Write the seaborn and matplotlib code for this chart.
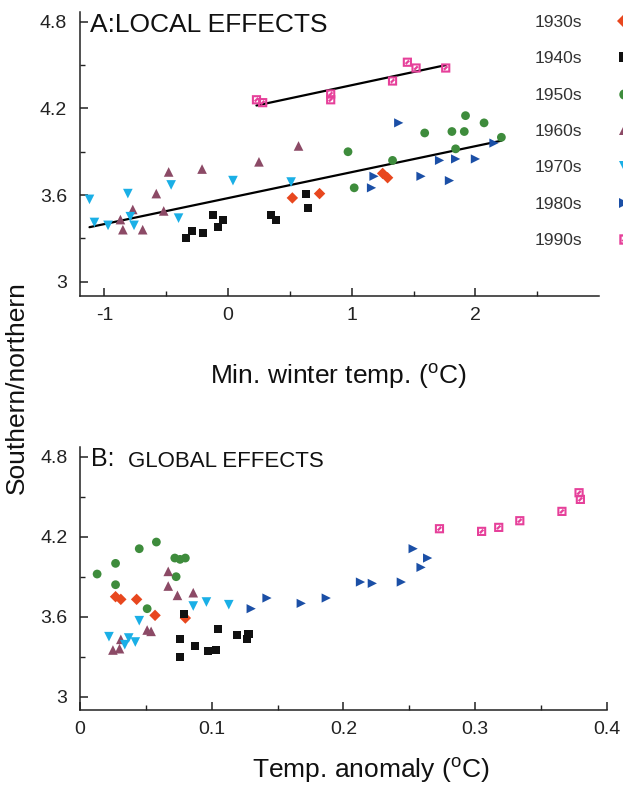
import numpy as np
import pandas as pd
import matplotlib
matplotlib.use("Agg")
import matplotlib.pyplot as plt
import seaborn as sns
from matplotlib.path import Path
from matplotlib.lines import Line2D

# ---------------- data ----------------
decades = ["1930s", "1940s", "1950s", "1960s", "1970s", "1980s", "1990s"]
colors = ["#E8471E", "#111111", "#3E8C3C", "#8C4A66", "#1AAFE6", "#1B4FA6", "#E6409A"]

# Panel A: local effects (min. winter temp vs ratio)
a1930_x = [0.52, 0.74, 1.25, 1.29]
a1930_y = [3.58, 3.61, 3.75, 3.72]
a1940_x = [-0.34, -0.29, -0.20, -0.12, -0.08, -0.04, 0.35, 0.39, 0.63, 0.65]
a1940_y = [3.30, 3.35, 3.34, 3.46, 3.38, 3.43, 3.46, 3.43, 3.61, 3.51]
a1950_x = [0.97, 1.02, 1.33, 1.59, 1.81, 1.91, 1.92, 2.07, 1.84, 2.21]
a1950_y = [3.90, 3.65, 3.84, 4.03, 4.04, 4.04, 4.15, 4.10, 3.92, 4.00]
a1960_x = [-0.87, -0.85, -0.77, -0.69, -0.58, -0.52, -0.48, -0.21, 0.25, 0.57]
a1960_y = [3.43, 3.36, 3.50, 3.36, 3.61, 3.49, 3.76, 3.78, 3.83, 3.94]
a1970_x = [-1.12, -1.08, -0.97, -0.81, -0.79, -0.76, -0.46, -0.40, 0.04, 0.51]
a1970_y = [3.57, 3.41, 3.39, 3.61, 3.45, 3.39, 3.67, 3.44, 3.70, 3.69]
a1980_x = [1.38, 1.18, 1.16, 1.56, 1.79, 1.71, 1.84, 2.00, 2.15]
a1980_y = [4.10, 3.73, 3.65, 3.73, 3.70, 3.84, 3.85, 3.85, 3.96]
a1990_x = [0.23, 0.28, 0.83, 0.83, 1.45, 1.52, 1.33, 1.76]
a1990_y = [4.26, 4.24, 4.30, 4.26, 4.52, 4.48, 4.39, 4.48]

# Panel B: global effects (temp. anomaly vs ratio)
b1930_x = [0.027, 0.031, 0.043, 0.057, 0.080]
b1930_y = [3.75, 3.73, 3.73, 3.61, 3.59]
b1940_x = [0.079, 0.076, 0.076, 0.087, 0.097, 0.103, 0.105, 0.119, 0.128, 0.127]
b1940_y = [3.62, 3.43, 3.30, 3.38, 3.34, 3.35, 3.51, 3.46, 3.47, 3.43]
b1950_x = [0.013, 0.027, 0.027, 0.045, 0.058, 0.072, 0.076, 0.080, 0.073, 0.051]
b1950_y = [3.92, 4.00, 3.84, 4.11, 4.16, 4.04, 4.03, 4.04, 3.90, 3.66]
b1960_x = [0.067, 0.067, 0.074, 0.086, 0.051, 0.054, 0.031, 0.025, 0.030]
b1960_y = [3.94, 3.83, 3.76, 3.78, 3.50, 3.49, 3.43, 3.35, 3.36]
b1970_x = [0.022, 0.045, 0.034, 0.037, 0.042, 0.086, 0.096, 0.113]
b1970_y = [3.45, 3.57, 3.39, 3.44, 3.41, 3.68, 3.71, 3.69]
b1980_x = [0.130, 0.142, 0.168, 0.187, 0.213, 0.222, 0.244, 0.253, 0.264, 0.259]
b1980_y = [3.66, 3.74, 3.70, 3.74, 3.86, 3.85, 3.86, 4.11, 4.04, 3.97]
b1990_x = [0.273, 0.305, 0.318, 0.334, 0.366, 0.379, 0.380]
b1990_y = [4.26, 4.24, 4.27, 4.32, 4.39, 4.53, 4.48]

a_x_lists = [a1930_x, a1940_x, a1950_x, a1960_x, a1970_x, a1980_x, a1990_x]
a_y_lists = [a1930_y, a1940_y, a1950_y, a1960_y, a1970_y, a1980_y, a1990_y]
b_x_lists = [b1930_x, b1940_x, b1950_x, b1960_x, b1970_x, b1980_x, b1990_x]
b_y_lists = [b1930_y, b1940_y, b1950_y, b1960_y, b1970_y, b1980_y, b1990_y]

a_xticks = [-1, 0, 1, 2]
a_xticklabels = ["-1", "0", "1", "2"]
b_xticks = [0, 0.1, 0.2, 0.3, 0.4]
b_xticklabels = ["0", "0.1", "0.2", "0.3", "0.4"]
yticks = [3.0, 3.6, 4.2, 4.8]
yticklabels = ["3", "3.6", "4.2", "4.8"]


def make_df(xl, yl):
    rows = []
    for d, xs, ys in zip(decades, xl, yl):
        for x, y in zip(xs, ys):
            rows.append((d, x, y))
    return pd.DataFrame(rows, columns=["decade", "x", "y"])


dfA = make_df(a_x_lists, a_y_lists)
dfB = make_df(b_x_lists, b_y_lists)

# ---------------- style ----------------
sns.set_style("ticks")
plt.rcParams["font.family"] = ["Liberation Sans", "DejaVu Sans"]
plt.rcParams["mathtext.fontset"] = "custom"
plt.rcParams["mathtext.rm"] = "Liberation Sans"

# custom marker for the 1990s: open square with a small diagonal mark
verts = [(-1, -1), (1, -1), (1, 1), (-1, 1), (-1, -1),
         (-0.55, -0.55), (-0.55, 0.55), (0.55, 0.55), (0.55, -0.55), (-0.55, -0.55),
         (-0.55, -0.2), (-0.2, -0.55), (0.55, 0.2), (0.2, 0.55), (-0.55, -0.2)]
codes = [Path.MOVETO, Path.LINETO, Path.LINETO, Path.LINETO, Path.CLOSEPOLY,
         Path.MOVETO, Path.LINETO, Path.LINETO, Path.LINETO, Path.CLOSEPOLY,
         Path.MOVETO, Path.LINETO, Path.LINETO, Path.LINETO, Path.CLOSEPOLY]
sq_marker = Path(verts, codes)

markers = ["D", "s", "o", "^", "v", ">", sq_marker]
msizes = [34, 34, 40, 48, 48, 44, 44]

W, H = 623, 787
fig = plt.figure(figsize=(W / 100, H / 100), dpi=100)
axA = fig.add_axes([79.6 / W, 1 - 296.1 / H, (599.1 - 79.6) / W, (296.1 - 11.7) / H])
axB = fig.add_axes([80 / W, 1 - 710 / H, (606.7 - 80) / W, (710 - 447.4) / H])


def draw(ax, df):
    for d, c, m, s in zip(decades, colors, markers, msizes):
        sub = df[df["decade"] == d]
        sns.scatterplot(data=sub, x="x", y="y", color=c, marker=m, s=s,
                        linewidth=0, edgecolor="none", ax=ax, legend=False,
                        zorder=3)


draw(axA, dfA)
draw(axB, dfB)

# regression lines in panel A
low = dfA[dfA["decade"] != "1990s"]
high = dfA[dfA["decade"] == "1990s"]
sns.regplot(data=low, x="x", y="y", scatter=False, ci=None, truncate=True,
            color="black", line_kws=dict(lw=1.6, zorder=2), ax=axA)
sns.regplot(data=high, x="x", y="y", scatter=False, ci=None, truncate=True,
            color="black", line_kws=dict(lw=1.6, zorder=2), ax=axA)

for ax, xt, xtl, xlim, minor in [
    (axA, a_xticks, a_xticklabels, (-1.2, 3.0), [-0.5, 0.5, 1.5, 2.5]),
    (axB, b_xticks, b_xticklabels, (0, 0.4), [0.05, 0.15, 0.25, 0.35]),
]:
    ax.set_xlim(*xlim)
    ax.set_ylim(2.9, 4.87)
    ax.set_xticks(xt)
    ax.set_xticklabels(xtl)
    ax.set_xticks(minor, minor=True)
    ax.set_yticks(yticks)
    ax.set_yticklabels(yticklabels)
    ax.set_yticks([3.3, 3.9, 4.5], minor=True)
    ax.set_xlabel("")
    ax.set_ylabel("")
    sns.despine(ax=ax)
    for sp in ["left", "bottom"]:
        ax.spines[sp].set_linewidth(1.1)
        ax.spines[sp].set_color("#222222")
    ax.tick_params(which="major", direction="in", length=6, width=1.1,
                   labelsize=14, color="#222222", labelcolor="#222222")
    ax.tick_params(which="minor", direction="in", length=3.5, width=1.0,
                   color="#222222")
    ax.tick_params(axis="x", which="major", pad=8)
    ax.tick_params(axis="y", which="major", pad=9)

# titles
fig.text(90 / W, 1 - 32 / H, "A:LOCAL EFFECTS", fontsize=19, va="baseline",
         ha="left", color="#111111")
fig.text(91 / W, 1 - 466 / H, "B:", fontsize=18, va="baseline", ha="left",
         color="#111111")
fig.text(128 / W, 1 - 467 / H, "GLOBAL EFFECTS", fontsize=16, va="baseline",
         ha="left", color="#111111")

# axis labels
fig.text(338.5 / W, 1 - 384 / H, r"Min. winter temp. ($^{\mathrm{o}}$C)",
         fontsize=19, ha="center", va="baseline", color="#111111")
fig.text(371 / W, 1 - 778 / H, r"Temp. anomaly ($^{\mathrm{o}}$C)",
         fontsize=19, ha="center", va="baseline", color="#111111")
fig.text(17 / W, 1 - 388 / H, "Southern/northern", rotation=90, fontsize=19,
         ha="center", va="center", color="#111111")

# legend (labels with markers to the right, clipped by the figure edge)
handles = [Line2D([], [], linestyle="none", marker=m, color=c,
                  markersize=7.5, markeredgewidth=0)
           for m, c in zip(markers, colors)]
fig.legend(handles, decades, loc="upper left",
           bbox_to_anchor=(535 / W, 1 - 15 / H), frameon=False,
           markerfirst=False, fontsize=12.5, labelspacing=1.22,
           handlelength=1.0, handletextpad=1.9, borderpad=0, borderaxespad=0,
           labelcolor="#333333")

fig.savefig("out.png", dpi=100)
